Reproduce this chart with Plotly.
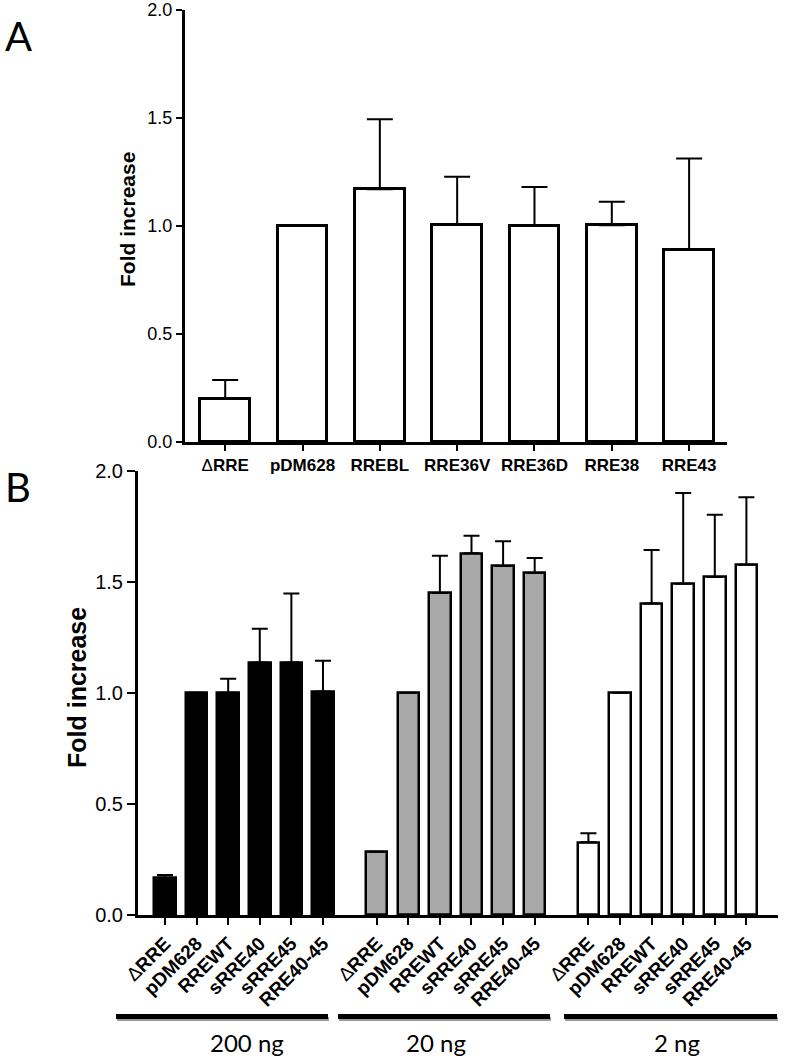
import plotly.graph_objects as go

# ---------------- data ----------------
a_labels = ["ΔRRE", "pDM628", "RREBL", "RRE36V", "RRE36D", "RRE38", "RRE43"]
a_values = [0.20, 1.00, 1.17, 1.005, 1.00, 1.003, 0.889]
a_errors = [0.087, None, 0.324, 0.223, 0.18, 0.109, 0.424]

b_labels = ["ΔRRE", "pDM628", "RREWT", "sRRE40", "sRRE45", "RRE40-45"]
b_groups = ["200 ng", "20 ng", "2 ng"]
b_values_200 = [0.168, 1.00, 1.00, 1.137, 1.137, 1.006]
b_errors_200 = [0.012, None, 0.063, 0.151, 0.31, 0.138]
b_values_20 = [0.285, 1.00, 1.449, 1.628, 1.571, 1.539]
b_errors_20 = [None, None, 0.168, 0.079, 0.111, 0.068]
b_values_2 = [0.327, 1.00, 1.402, 1.491, 1.521, 1.577]
b_errors_2 = [0.041, None, 0.241, 0.409, 0.281, 0.304]
b_colors = ["#000000", "#a8a8a8", "#ffffff"]

y_ticks = [0.0, 0.5, 1.0, 1.5, 2.0]
y_ticktext = ["0.0", "0.5", "1.0", "1.5", "2.0"]

W, H = 787, 1059
GROUP_STEP = 6.7


def px_x(v):
    return v / W


def px_y(v):
    return 1 - v / H


def bold_label(s):
    if s.startswith("Δ"):
        return "Δ<b>" + s[1:] + "</b>"
    return "<b>" + s + "</b>"


fig = go.Figure()

# ---------------- panel A ----------------
a_x = list(range(len(a_labels)))
fig.add_trace(go.Bar(
    x=a_x, y=a_values, width=0.645,
    marker=dict(color="white", line=dict(color="black", width=3)),
    error_y=dict(type="data", symmetric=False, array=a_errors,
                 arrayminus=[0] * len(a_values),
                 color="black", thickness=2, width=13),
    xaxis="x", yaxis="y", showlegend=False, hoverinfo="skip",
))

# ---------------- panel B ----------------
b_series = [(b_values_200, b_errors_200), (b_values_20, b_errors_20), (b_values_2, b_errors_2)]
b_tickvals, b_ticktext = [], []
for g, (vals, errs) in enumerate(b_series):
    xs = [g * GROUP_STEP + i for i in range(len(b_labels))]
    b_tickvals += xs
    b_ticktext += [bold_label(s) for s in b_labels]
    fig.add_trace(go.Bar(
        x=xs, y=vals, width=0.68,
        marker=dict(color=b_colors[g], line=dict(color="black", width=2.5)),
        error_y=dict(type="data", symmetric=False, array=errs,
                     arrayminus=[0] * len(vals),
                     color="black", thickness=2, width=8),
        xaxis="x2", yaxis="y2", showlegend=False, hoverinfo="skip",
    ))

axis_common = dict(showgrid=False, zeroline=False, showline=True,
                   linecolor="black", ticks="outside", tickcolor="black",
                   mirror=False, automargin=False)

fig.update_layout(
    width=W, height=H,
    margin=dict(l=0, r=0, t=0, b=0, autoexpand=False),
    paper_bgcolor="white", plot_bgcolor="white",
    font=dict(family="Liberation Sans, Arial, sans-serif", color="black"),
    bargap=0,
    xaxis=dict(domain=[px_x(185), px_x(727)], range=[-0.52, 6.49],
               tickvals=a_x, ticktext=[bold_label(s) for s in a_labels],
               tickfont=dict(size=17), linewidth=3, ticklen=6, tickwidth=2,
               anchor="y", **axis_common),
    yaxis=dict(domain=[px_y(442), px_y(10)], range=[0, 2],
               tickvals=y_ticks, ticktext=y_ticktext,
               tickfont=dict(size=18), linewidth=3, ticklen=6, tickwidth=2,
               anchor="x", **axis_common),
    xaxis2=dict(domain=[px_x(138), px_x(778)], range=[-0.854, 19.4],
                tickvals=b_tickvals, ticktext=b_ticktext, tickangle=-45,
                tickfont=dict(size=19), linewidth=3, ticklen=7, tickwidth=2,
                anchor="y2", **axis_common),
    yaxis2=dict(domain=[px_y(915), px_y(470.7)], range=[0, 2],
                tickvals=y_ticks, ticktext=y_ticktext,
                tickfont=dict(size=20), linewidth=3, ticklen=8, tickwidth=2,
                anchor="x2", **axis_common),
)

annotations = [
    dict(text="A", x=px_x(18), y=px_y(36), xref="paper", yref="paper",
         showarrow=False, font=dict(family="Lato, sans-serif", size=40),
         xanchor="center", yanchor="middle"),
    dict(text="B", x=px_x(18), y=px_y(487), xref="paper", yref="paper",
         showarrow=False, font=dict(family="Lato, sans-serif", size=40),
         xanchor="center", yanchor="middle"),
    dict(text="<b>Fold increase</b>", x=px_x(128), y=px_y(220), xref="paper", yref="paper",
         showarrow=False, textangle=-90, font=dict(size=21),
         xanchor="center", yanchor="middle"),
    dict(text="<b>Fold increase</b>", x=px_x(77), y=px_y(688), xref="paper", yref="paper",
         showarrow=False, textangle=-90, font=dict(size=25),
         xanchor="center", yanchor="middle"),
]

# group bars under panel B
group_spans = [(116, 328, 247), (338, 550, 436), (564, 777, 677)]
shapes = []
for (x0, x1, xc), name in zip(group_spans, b_groups):
    shapes.append(dict(type="line", xref="paper", yref="paper",
                       x0=px_x(x0 + 1), x1=px_x(x1 + 1), y0=px_y(1019), y1=px_y(1019),
                       line=dict(color="#9a9a9a", width=4)))
    shapes.append(dict(type="line", xref="paper", yref="paper",
                       x0=px_x(x0), x1=px_x(x1), y0=px_y(1016.5), y1=px_y(1016.5),
                       line=dict(color="black", width=5)))
    annotations.append(dict(text=name, x=px_x(xc), y=px_y(1042), xref="paper", yref="paper",
                            showarrow=False, font=dict(family="Lato, sans-serif", size=24),
                            xanchor="center", yanchor="middle"))

fig.update_layout(annotations=annotations, shapes=shapes)

fig.write_html(
    "out.html",
    config={"displayModeBar": False},
    post_script="document.body.style.margin='0';document.body.style.overflow='hidden';",
)
